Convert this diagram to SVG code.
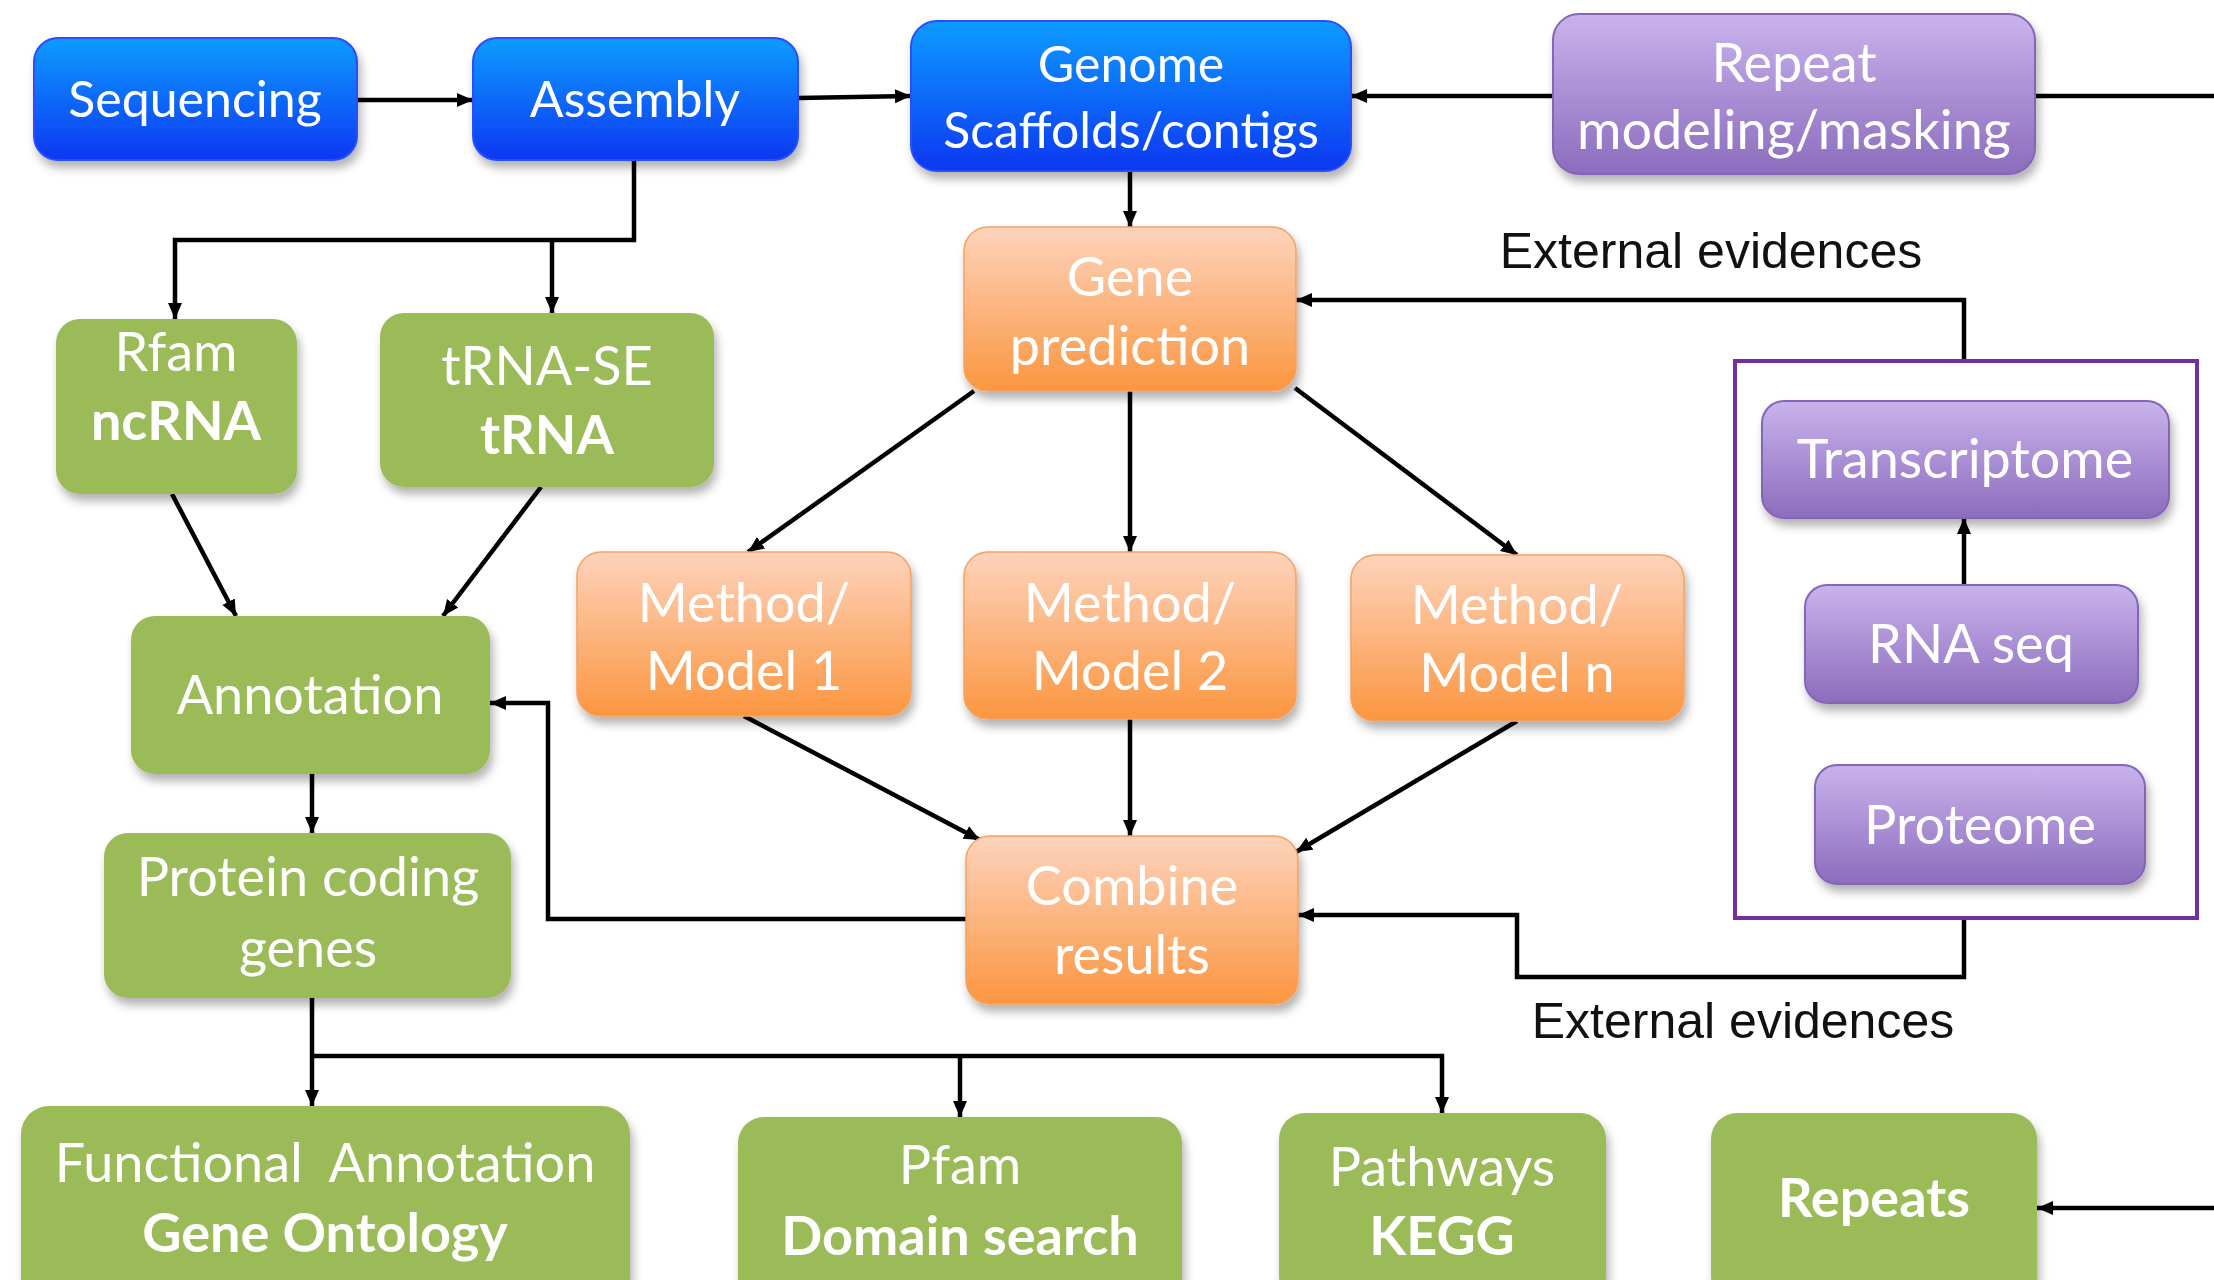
<svg xmlns="http://www.w3.org/2000/svg" width="2214" height="1280" viewBox="0 0 2214 1280">
<style>
.t{font-family:Lato,"Open Sans","Liberation Sans",sans-serif;font-size:54px;fill:#ffffff;text-anchor:middle}
.tb{font-size:50px}
.b{font-weight:bold;font-size:54px}
.lbl{font-family:"Liberation Sans",Arial,sans-serif;font-size:50px;fill:#111111;text-anchor:middle}
.c{fill:none;stroke:#000;stroke-width:4.5}
.ca{fill:none;stroke:#000;stroke-width:4.5;marker-end:url(#ah)}
.blue{fill:url(#gBlue);stroke:#2a4dff;stroke-width:2}
.purple{fill:url(#gPurple);stroke:#8466b8;stroke-width:2}
.orange{fill:url(#gOrange);stroke:#f8a060;stroke-width:1.5}
.green{fill:#9bbb59}
</style>
<defs>
<linearGradient id="gBlue" x1="0" y1="0" x2="0" y2="1">
<stop offset="0" stop-color="#0a9cff"/><stop offset="1" stop-color="#0a37f2"/>
</linearGradient>
<linearGradient id="gPurple" x1="0" y1="0" x2="0" y2="1">
<stop offset="0" stop-color="#c9b3ec"/><stop offset="1" stop-color="#8c6cbd"/>
</linearGradient>
<linearGradient id="gOrange" x1="0" y1="0" x2="0" y2="1">
<stop offset="0" stop-color="#fdd3bc"/><stop offset="1" stop-color="#fb9640"/>
</linearGradient>
<filter id="sh" x="-10%" y="-10%" width="125%" height="130%">
<feDropShadow dx="3" dy="7" stdDeviation="5" flood-color="#000" flood-opacity="0.3"/>
</filter>
<marker id="ah" markerUnits="userSpaceOnUse" markerWidth="18" markerHeight="16" refX="16" refY="8" orient="auto">
<path d="M0,1 L16,8 L0,15 Z" fill="#000"/>
</marker>
</defs>

<g id="connectors">
<path class="ca" d="M357,100 L473,100"/>
<path class="ca" d="M798,98 L911,96"/>
<path class="ca" d="M1553,96 L1351,96"/>
<path class="c" d="M2035,96 L2214,96"/>
<path class="ca" d="M2214,1208 L2037,1208"/>
<path class="ca" d="M634,160 V240 H175 V319"/>
<path class="ca" d="M552,240 V313"/>
<path class="ca" d="M1130,171 V227"/>
<path class="ca" d="M974,391 L748,552"/>
<path class="ca" d="M1130,391 V552"/>
<path class="ca" d="M1295,388 L1517,555"/>
<path class="ca" d="M744,716 L980,840"/>
<path class="ca" d="M1130,719 V836"/>
<path class="ca" d="M1517,721 L1296,852"/>
<path class="ca" d="M172,494 L236,616"/>
<path class="ca" d="M541,487 L443,616"/>
<path class="ca" d="M966,919 H548 V703 H490"/>
<path class="ca" d="M312,774 V833"/>
<path class="ca" d="M312,998 V1106"/>
<path class="ca" d="M312,1056 H1442 V1113"/>
<path class="ca" d="M960,1056 V1117"/>
<path class="ca" d="M1964,361 V300 H1296"/>
<path class="ca" d="M1964,918 V977 H1517 V915 H1298"/>
<path class="ca" d="M1964,585 V518"/>
</g>

<g id="labels">
<text class="lbl" x="1711" y="268">External evidences</text>
<text class="lbl" x="1743" y="1038">External evidences</text>
</g>

<g id="evidence-frame">
<rect x="1735" y="361" width="462" height="557" fill="none" stroke="#7030a0" stroke-width="4"/>
</g>

<g id="sequencing" filter="url(#sh)">
<rect class="blue" x="34" y="38" width="323" height="122" rx="24"/>
<text class="t tb" x="195" y="117">Sequencing</text>
</g>
<g id="assembly" filter="url(#sh)">
<rect class="blue" x="473" y="38" width="325" height="122" rx="24"/>
<text class="t tb" x="635" y="117">Assembly</text>
</g>
<g id="genome" filter="url(#sh)">
<rect class="blue" x="911" y="21" width="440" height="150" rx="26"/>
<text class="t tb" x="1131" y="82">Genome</text>
<text class="t tb" x="1131" y="148">Scaffolds/contigs</text>
</g>
<g id="repeat-modeling" filter="url(#sh)">
<rect class="purple" x="1553" y="14" width="482" height="160" rx="26"/>
<text class="t" x="1794" y="82">Repeat</text>
<text class="t" x="1794" y="149">modeling/masking</text>
</g>
<g id="gene-prediction" filter="url(#sh)">
<rect class="orange" x="964" y="227" width="332" height="164" rx="24"/>
<text class="t" x="1130" y="296">Gene</text>
<text class="t" x="1130" y="365">prediction</text>
</g>
<g id="rfam" filter="url(#sh)">
<rect class="green" x="56" y="319" width="241" height="175" rx="24"/>
<text class="t" x="176" y="371">Rfam</text>
<text class="t b" x="176" y="440">ncRNA</text>
</g>
<g id="trna-se" filter="url(#sh)">
<rect class="green" x="380" y="313" width="334" height="174" rx="24"/>
<text class="t" x="547" y="385">tRNA-SE</text>
<text class="t b" x="547" y="454">tRNA</text>
</g>
<g id="annotation" filter="url(#sh)">
<rect class="green" x="131" y="616" width="359" height="158" rx="24"/>
<text class="t" x="310" y="714">Annotation</text>
</g>
<g id="method1" filter="url(#sh)">
<rect class="orange" x="577" y="552" width="334" height="164" rx="24"/>
<text class="t" x="744" y="622">Method/</text>
<text class="t" x="744" y="690">Model 1</text>
</g>
<g id="method2" filter="url(#sh)">
<rect class="orange" x="964" y="552" width="332" height="167" rx="24"/>
<text class="t" x="1130" y="622">Method/</text>
<text class="t" x="1130" y="690">Model 2</text>
</g>
<g id="methodn" filter="url(#sh)">
<rect class="orange" x="1351" y="555" width="333" height="166" rx="24"/>
<text class="t" x="1517" y="624">Method/</text>
<text class="t" x="1517" y="692">Model n</text>
</g>
<g id="combine" filter="url(#sh)">
<rect class="orange" x="966" y="836" width="332" height="168" rx="24"/>
<text class="t" x="1132" y="905">Combine</text>
<text class="t" x="1132" y="974">results</text>
</g>
<g id="protein-coding" filter="url(#sh)">
<rect class="green" x="104" y="833" width="407" height="165" rx="24"/>
<text class="t" x="308" y="896">Protein coding</text>
<text class="t" x="308" y="967">genes</text>
</g>
<g id="transcriptome" filter="url(#sh)">
<rect class="purple" x="1762" y="401" width="407" height="117" rx="22"/>
<text class="t" x="1965" y="478">Transcriptome</text>
</g>
<g id="rna-seq" filter="url(#sh)">
<rect class="purple" x="1805" y="585" width="333" height="118" rx="22"/>
<text class="t" x="1971" y="663">RNA seq</text>
</g>
<g id="proteome" filter="url(#sh)">
<rect class="purple" x="1815" y="765" width="330" height="119" rx="22"/>
<text class="t" x="1980" y="844">Proteome</text>
</g>
<g id="functional-annotation" filter="url(#sh)">
<rect class="green" x="21" y="1106" width="609" height="200" rx="28"/>
<text class="t" x="325" y="1182" xml:space="preserve">Functional  Annotation</text>
<text class="t b" x="325" y="1252">Gene Ontology</text>
</g>
<g id="pfam" filter="url(#sh)">
<rect class="green" x="738" y="1117" width="444" height="190" rx="26"/>
<text class="t" x="960" y="1184">Pfam</text>
<text class="t b" x="960" y="1255">Domain search</text>
</g>
<g id="pathways" filter="url(#sh)">
<rect class="green" x="1279" y="1113" width="327" height="190" rx="26"/>
<text class="t" x="1442" y="1186">Pathways</text>
<text class="t b" x="1442" y="1255">KEGG</text>
</g>
<g id="repeats" filter="url(#sh)">
<rect class="green" x="1711" y="1113" width="326" height="190" rx="26"/>
<text class="t b" x="1874" y="1217">Repeats</text>
</g>
</svg>
